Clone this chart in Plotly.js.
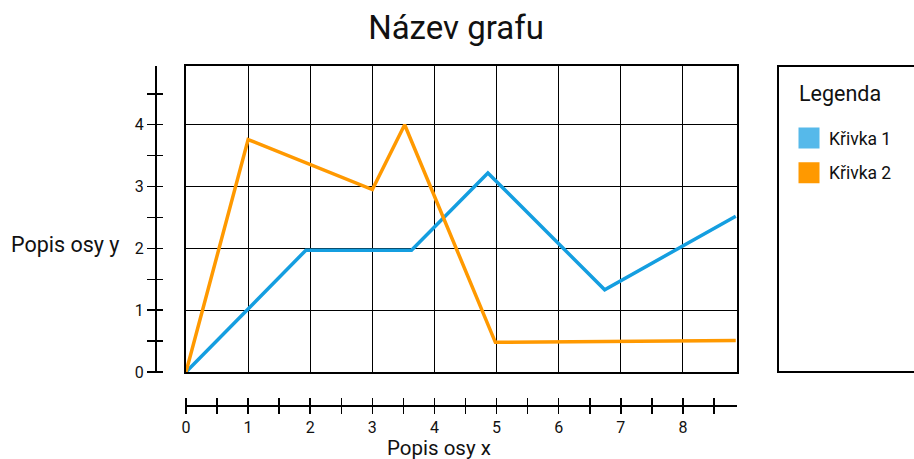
<!DOCTYPE html>
<html>
<head>
<meta charset="utf-8">
<script src="https://cdn.plot.ly/plotly-3.0.1.min.js"></script>
<style>html,body{margin:0;padding:0;background:#fff;}#chart{width:914px;height:459px;}</style>
</head>
<body>
<div id="chart"></div>
<script>
// Data
const seriesNames = ["Křivka 1", "Křivka 2"];
const curve1X = [0, 1.93, 3.63, 4.86, 6.74, 8.85];
const curve1Y = [0, 1.97, 1.97, 3.22, 1.33, 2.52];
const curve2X = [0, 1, 3, 3.52, 4.98, 8.85];
const curve2Y = [0, 3.76, 2.95, 4.0, 0.48, 0.51];
const xTickVals = [0, 1, 2, 3, 4, 5, 6, 7, 8];
const yTickVals = [0, 1, 2, 3, 4];
const titleText = "Název grafu";
const xTitle = "Popis osy x";
const yTitle = "Popis osy y";
const legendTitle = "Legenda";

const lineColors = ["#149ee0", "#ff9900"];
const swatchColors = ["#56b9ea", "#ff9900"];

const W = 914, H = 459;
const plotL = 186, plotR = 737, plotT = 66, plotB = 372;
const xRange = [0, 8.87];
const yRange = [0, 4.95];
const font = "Roboto, 'Open Sans', sans-serif";

const traces = [
  {x: curve1X, y: curve1Y, mode: "lines", name: seriesNames[0], showlegend: false,
   line: {color: lineColors[0], width: 3.5}, xaxis: "x", yaxis: "y"},
  {x: curve2X, y: curve2Y, mode: "lines", name: seriesNames[1], showlegend: false,
   line: {color: lineColors[1], width: 3.5}, xaxis: "x", yaxis: "y"},
  {x: [null], y: [null], mode: "markers", name: seriesNames[0], legendgroup: "a",
   marker: {symbol: "square", size: 16, color: swatchColors[0], line: {color: swatchColors[0], width: 5}},
   xaxis: "x2", yaxis: "y2"},
  {x: [null], y: [null], mode: "markers", name: seriesNames[1], legendgroup: "b",
   marker: {symbol: "square", size: 16, color: swatchColors[1], line: {color: swatchColors[1], width: 5}},
   xaxis: "x3", yaxis: "y3"}
];

const xDomain = [plotL / W, plotR / W];
const yDomain = [(H - plotB) / H, (H - plotT) / H];
const tickStyle = {ticks: "outside", ticklen: 16, tickwidth: 1.5, tickcolor: "#000"};
const tickFont = {family: font, size: 16, color: "#111"};

// tick axes: placed 8px off the axis line, 16px ticks so they cross the line
const xaxis2 = Object.assign({
  overlaying: "x", anchor: "free", side: "bottom", position: (H - 397) / H, domain: xDomain,
  range: xRange, showgrid: false, zeroline: false, showline: false,
  tickmode: "array", tickvals: xTickVals, showticklabels: true, tickfont: tickFont,
  minor: Object.assign({dtick: 0.5, tick0: 0, showgrid: false}, tickStyle)
}, tickStyle);
const yaxis2 = Object.assign({
  overlaying: "y", anchor: "free", side: "left", position: 163 / W, domain: yDomain,
  range: yRange, showgrid: false, zeroline: false, showline: false,
  tickmode: "array", tickvals: yTickVals, showticklabels: true, tickfont: tickFont,
  minor: Object.assign({dtick: 0.5, tick0: 0, showgrid: false}, tickStyle)
}, tickStyle);
// line-only axes
const xaxis3 = {
  overlaying: "x", anchor: "free", side: "bottom", position: (H - 405) / H, domain: xDomain,
  range: xRange, showgrid: false, zeroline: false, showline: true, linecolor: "#000", linewidth: 1.5,
  ticks: "", showticklabels: false
};
const yaxis3 = {
  overlaying: "y", anchor: "free", side: "left", position: 155 / W, domain: yDomain,
  range: yRange, showgrid: false, zeroline: false, showline: true, linecolor: "#000", linewidth: 1.5,
  ticks: "", showticklabels: false
};

const layout = {
  width: W, height: H,
  margin: {l: 0, r: 0, t: 0, b: 0, pad: 0},
  paper_bgcolor: "#fff", plot_bgcolor: "#fff",
  font: {family: font, color: "#111"},
  title: {text: titleText, x: 456 / W, xanchor: "center", y: 1 - 27 / H, yanchor: "middle",
          font: {family: font, size: 33, color: "#111"}},
  xaxis: {domain: xDomain, range: xRange, anchor: "y", tickmode: "array", tickvals: xTickVals,
          showgrid: true, gridcolor: "#000", gridwidth: 1, zeroline: false,
          showline: true, mirror: true, linecolor: "#000", linewidth: 2, ticks: "", showticklabels: false},
  yaxis: {domain: yDomain, range: yRange, anchor: "x", tickmode: "array", tickvals: yTickVals,
          showgrid: true, gridcolor: "#000", gridwidth: 1, zeroline: false,
          showline: true, mirror: true, linecolor: "#000", linewidth: 2, ticks: "", showticklabels: false},
  xaxis2: xaxis2, xaxis3: xaxis3, yaxis2: yaxis2, yaxis3: yaxis3,
  showlegend: true,
  legend: {x: 789 / W, y: 1 - 120 / H, xanchor: "left", yanchor: "top",
           bgcolor: "rgba(0,0,0,0)", borderwidth: 0, tracegroupgap: 9,
           font: {family: font, size: 17.5, color: "#111"}},
  shapes: [{type: "rect", xref: "paper", yref: "paper", x0: 778 / W, x1: 1.02,
            y0: (H - plotB) / H, y1: (H - plotT) / H, line: {color: "#000", width: 2}}],
  annotations: [
    {text: yTitle, xref: "paper", yref: "paper", x: 64.5 / W, y: (H - 245) / H,
     xanchor: "center", yanchor: "middle", showarrow: false,
     font: {family: font, size: 21.5, color: "#111"}},
    {text: xTitle, xref: "paper", yref: "paper", x: 439 / W, y: (H - 447.5) / H,
     xanchor: "center", yanchor: "middle", showarrow: false,
     font: {family: font, size: 20.5, color: "#111"}},
    {text: legendTitle, xref: "paper", yref: "paper", x: 797 / W, y: (H - 94) / H,
     xanchor: "left", yanchor: "middle", showarrow: false,
     font: {family: font, size: 21.5, color: "#111"}}
  ]
};

Plotly.newPlot("chart", traces, layout, {displayModeBar: false, staticPlot: true});
</script>
</body>
</html>
